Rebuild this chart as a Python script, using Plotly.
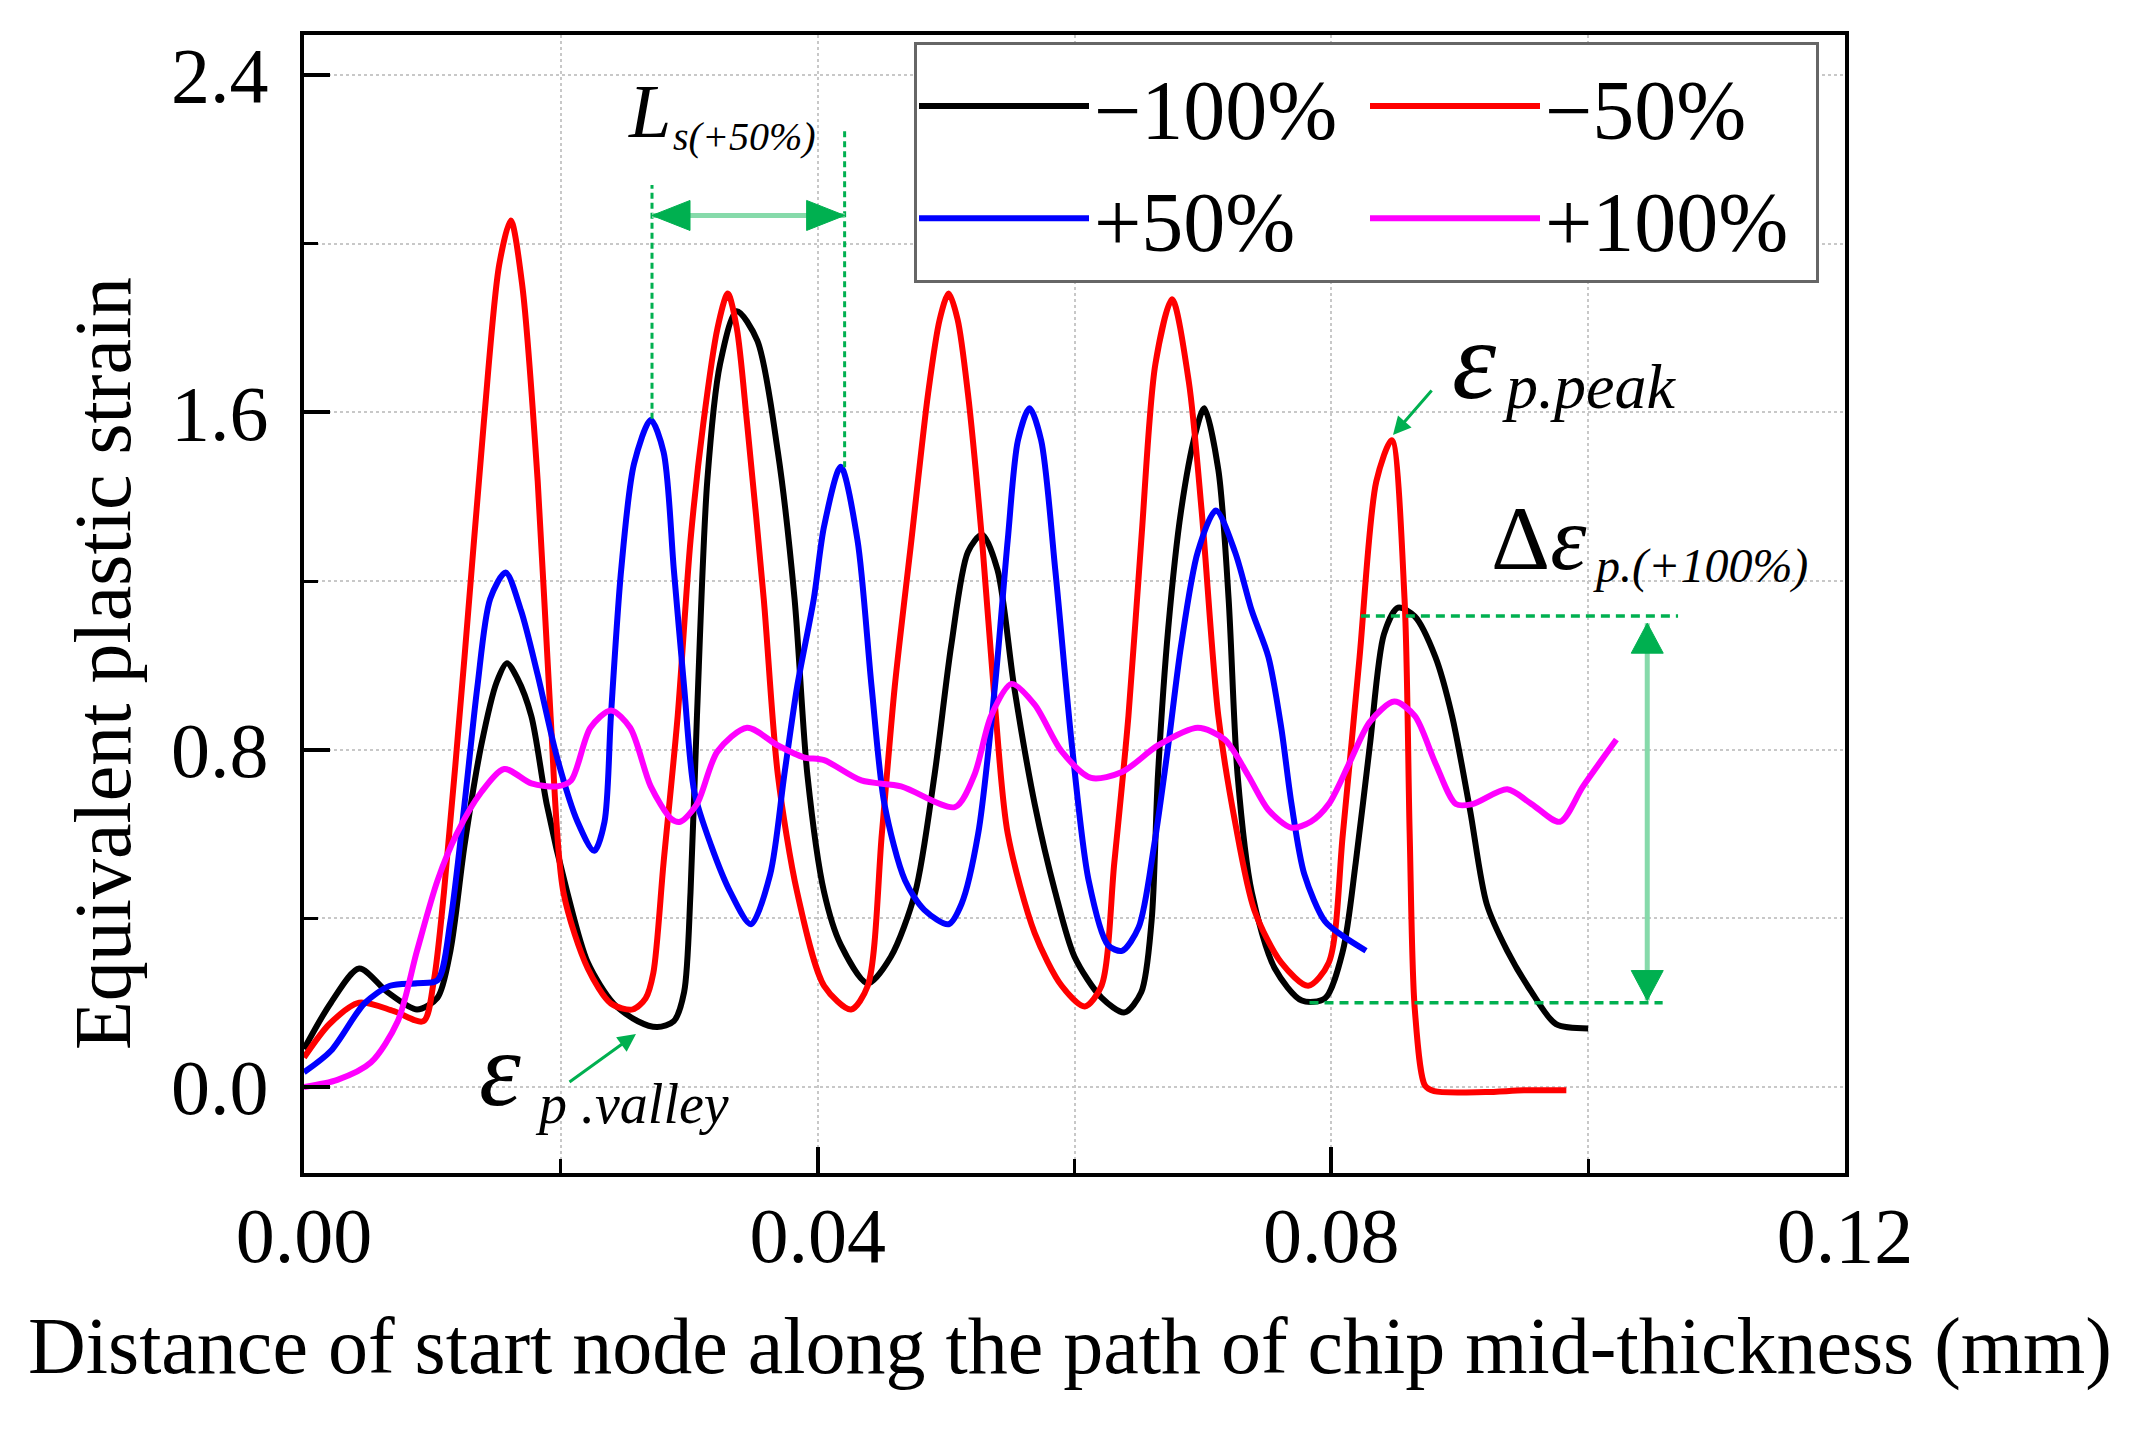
import plotly.graph_objects as go

# ---------------- data ----------------
red_x = [0.0000, 0.0020, 0.0043, 0.0070, 0.0093, 0.0101, 0.0109, 0.0125, 0.0140, 0.0152, 0.0161, 0.0170,
         0.0182, 0.0192, 0.0202, 0.0221, 0.0239, 0.0256, 0.0266, 0.0272, 0.0280, 0.0291, 0.0301, 0.0311,
         0.0322, 0.0330, 0.0337, 0.0345, 0.0358, 0.0369, 0.0384, 0.0405, 0.0426, 0.0439, 0.0450, 0.0460,
         0.0473, 0.0486, 0.0495, 0.0502, 0.0509, 0.0517, 0.0528, 0.0538, 0.0548, 0.0569, 0.0590, 0.0608,
         0.0621, 0.0631, 0.0642, 0.0652, 0.0663, 0.0676, 0.0689, 0.0699, 0.0712, 0.0725, 0.0740, 0.0761,
         0.0782, 0.0798, 0.0809, 0.0822, 0.0835, 0.0847, 0.0857, 0.0861, 0.0865, 0.0873, 0.0880, 0.0920,
         0.0950, 0.0983]
red_y = [0.07, 0.15, 0.20, 0.18, 0.156, 0.25, 0.462, 1.02, 1.575, 1.95, 2.055, 1.90,
         1.436, 0.88, 0.462, 0.281, 0.198, 0.184, 0.21, 0.27, 0.532, 0.88, 1.297, 1.575,
         1.80, 1.882, 1.80, 1.575, 1.158, 0.74, 0.462, 0.24, 0.184, 0.24, 0.601, 0.949,
         1.297, 1.645, 1.82, 1.882, 1.82, 1.645, 1.297, 0.908, 0.601, 0.365, 0.24, 0.191,
         0.24, 0.532, 0.88, 1.297, 1.715, 1.868, 1.673, 1.367, 0.88, 0.629, 0.42, 0.295,
         0.24, 0.295, 0.601, 1.02, 1.436, 1.534, 1.158, 0.601, 0.184, 0.003, -0.01, -0.012,
         -0.008, -0.008]

black_x = [0.0000, 0.0021, 0.0043, 0.0065, 0.0088, 0.0104, 0.0114, 0.0125, 0.0138, 0.0150, 0.0158, 0.0166,
           0.0177, 0.0189, 0.0205, 0.0221, 0.0241, 0.0260, 0.0275, 0.0288, 0.0296, 0.0301, 0.0306, 0.0314,
           0.0324, 0.0337, 0.0353, 0.0369, 0.0382, 0.0392, 0.0405, 0.0418, 0.0439, 0.0457, 0.0476, 0.0491,
           0.0504, 0.0517, 0.0528, 0.0540, 0.0553, 0.0569, 0.0585, 0.0600, 0.0621, 0.0639, 0.0652, 0.0660,
           0.0665, 0.0673, 0.0683, 0.0694, 0.0701, 0.0712, 0.0720, 0.0727, 0.0738, 0.0756, 0.0777, 0.0795,
           0.0809, 0.0819, 0.0830, 0.0841, 0.0852, 0.0865, 0.0881, 0.0894, 0.0908, 0.0921, 0.0937, 0.0956,
           0.0975, 0.1000]
black_y = [0.09, 0.20, 0.281, 0.225, 0.184, 0.212, 0.323, 0.573, 0.81, 0.96, 1.005, 0.97,
           0.88, 0.671, 0.462, 0.295, 0.198, 0.156, 0.142, 0.156, 0.225, 0.462, 0.88, 1.436,
           1.715, 1.84, 1.77, 1.506, 1.158, 0.74, 0.462, 0.337, 0.246, 0.309, 0.462, 0.74,
           1.047, 1.269, 1.31, 1.227, 0.949, 0.671, 0.462, 0.309, 0.212, 0.177, 0.225, 0.393,
           0.74, 1.088, 1.367, 1.548, 1.61, 1.464, 1.158, 0.74, 0.462, 0.281, 0.205, 0.21,
           0.323, 0.532, 0.81, 1.074, 1.137, 1.116, 1.02, 0.88, 0.657, 0.434, 0.323, 0.225,
           0.149, 0.139]

blue_x = [0.0000, 0.0021, 0.0047, 0.0067, 0.0088, 0.0104, 0.0114, 0.0125, 0.0135, 0.0145, 0.0157, 0.0169,
          0.0182, 0.0197, 0.0213, 0.0226, 0.0234, 0.0239, 0.0247, 0.0257, 0.0270, 0.0280, 0.0288, 0.0296,
          0.0304, 0.0317, 0.0332, 0.0348, 0.0363, 0.0374, 0.0384, 0.0397, 0.0405, 0.0418, 0.0431, 0.0442,
          0.0452, 0.0468, 0.0483, 0.0502, 0.0512, 0.0525, 0.0538, 0.0548, 0.0556, 0.0565, 0.0574, 0.0585,
          0.0598, 0.0611, 0.0626, 0.0637, 0.0650, 0.0662, 0.0673, 0.0683, 0.0696, 0.0710, 0.0725, 0.0738,
          0.0751, 0.0761, 0.0769, 0.0779, 0.0795, 0.0809, 0.0827]
blue_y = [0.035, 0.086, 0.198, 0.24, 0.246, 0.253, 0.393, 0.671, 0.949, 1.158, 1.22, 1.13,
          0.977, 0.782, 0.629, 0.56, 0.629, 0.88, 1.227, 1.478, 1.582, 1.506, 1.227, 0.949,
          0.699, 0.573, 0.462, 0.386, 0.504, 0.74, 0.949, 1.158, 1.33, 1.471, 1.297, 0.949,
          0.671, 0.49, 0.42, 0.386, 0.434, 0.601, 0.949, 1.297, 1.534, 1.61, 1.534, 1.227,
          0.81, 0.49, 0.337, 0.323, 0.379, 0.573, 0.81, 1.047, 1.269, 1.367, 1.269, 1.13,
          1.02, 0.852, 0.671, 0.504, 0.393, 0.358, 0.323]

magenta_x = [0.0000, 0.0026, 0.0052, 0.0073, 0.0088, 0.0104, 0.0119, 0.0138, 0.0156, 0.0177, 0.0197, 0.0208,
             0.0223, 0.0239, 0.0254, 0.0270, 0.0286, 0.0293, 0.0306, 0.0322, 0.0345, 0.0369, 0.0389, 0.0405,
             0.0434, 0.0465, 0.0507, 0.0522, 0.0535, 0.0551, 0.0569, 0.0590, 0.0613, 0.0637, 0.0665, 0.0696,
             0.0717, 0.0735, 0.0751, 0.0769, 0.0784, 0.0798, 0.0814, 0.0830, 0.0849, 0.0865, 0.0881, 0.0897,
             0.0910, 0.0937, 0.0956, 0.0978, 0.0996, 0.1022]
magenta_y = [0.00, 0.017, 0.058, 0.156, 0.323, 0.49, 0.601, 0.699, 0.754, 0.72, 0.713, 0.727,
             0.852, 0.893, 0.852, 0.713, 0.636, 0.629, 0.671, 0.796, 0.852, 0.81, 0.782, 0.775,
             0.727, 0.713, 0.664, 0.74, 0.88, 0.956, 0.907, 0.796, 0.733, 0.747, 0.81, 0.852,
             0.824, 0.74, 0.657, 0.615, 0.629, 0.671, 0.768, 0.866, 0.914, 0.88, 0.768, 0.671,
             0.671, 0.706, 0.671, 0.629, 0.713, 0.824]

series_names = ["\u2212100%", "\u221250%", "+50%", "+100%"]
series_colors = ["#000000", "#FF0000", "#0000FF", "#FF00FF"]
legend_columns = ["c1", "c2", "c1", "c2"]

x_major = [0.00, 0.04, 0.08, 0.12]
x_major_text = ["0.00", "0.04", "0.08", "0.12"]
y_major = [0.0, 0.8, 1.6, 2.4]
y_major_text = ["0.0", "0.8", "1.6", "2.4"]

x_title = "Distance of start node along the path of chip mid-thickness (mm)"
y_title = "Equivalent plastic strain"

# ---------------- figure ----------------
FONT = "Liberation Serif"
W, H = 2139, 1430
L, R, T, B = 296, 302, 27, 265
GREEN = "#00B050"
LIGHT_GREEN = "#86DAAA"

fig = go.Figure()
data = [(black_x, black_y), (red_x, red_y), (blue_x, blue_y), (magenta_x, magenta_y)]
for (xs, ys), name, col, grp in zip(data, series_names, series_colors, legend_columns):
    fig.add_trace(go.Scatter(x=xs, y=ys, mode="lines", name=name, legendgroup=grp,
                             line=dict(color=col, width=6, shape="spline", smoothing=0.8)))

axis_common = dict(showline=True, linewidth=4, linecolor="black", mirror=True,
                   ticks="inside", ticklen=26, tickwidth=4, tickcolor="black",
                   showgrid=False, zeroline=False, automargin=False,
                   tickfont=dict(family=FONT, size=78, color="black"))

fig.update_xaxes(range=[0, 0.12], tickmode="array", tickvals=x_major, ticktext=x_major_text,
                 ticklabelstandoff=-9,
                 minor=dict(dtick=0.02, tick0=0, ticks="inside", ticklen=14, tickwidth=3,
                            tickcolor="black", showgrid=True, gridcolor="#C8C8C8",
                            griddash="dot", gridwidth=2),
                 **axis_common)
fig.update_yaxes(range=[-0.204, 2.495], tickmode="array", tickvals=y_major, ticktext=y_major_text,
                 ticklabelstandoff=16,
                 minor=dict(dtick=0.4, tick0=0, ticks="inside", ticklen=14, tickwidth=3,
                            tickcolor="black", showgrid=True, gridcolor="#C8C8C8",
                            griddash="dot", gridwidth=2),
                 **axis_common)

# helpers to convert reference pixel positions to data coords for labels
def dx(px):
    return (px - 296) / 12842.0

def dy(py):
    return (1079 - py) / 421.7

shapes = []
# L_s(+50%) guide lines
shapes.append(dict(type="line", x0=0.0271, x1=0.0271, y0=1.585, y1=2.139,
                   line=dict(color=GREEN, width=3, dash="6px,4px")))
shapes.append(dict(type="line", x0=0.0421, x1=0.0421, y0=1.47, y1=2.274,
                   line=dict(color=GREEN, width=3, dash="6px,4px")))
shapes.append(dict(type="line", x0=0.0271, x1=0.0421, y0=2.067, y1=2.067,
                   line=dict(color=LIGHT_GREEN, width=5)))
# Delta eps guide lines
shapes.append(dict(type="line", x0=0.0823, x1=0.107, y0=1.117, y1=1.117,
                   line=dict(color=GREEN, width=3.5, dash="9px,6px")))
shapes.append(dict(type="line", x0=0.0783, x1=0.1058, y0=0.200, y1=0.200,
                   line=dict(color=GREEN, width=3.5, dash="9px,6px")))
shapes.append(dict(type="line", x0=0.1046, x1=0.1046, y0=0.205, y1=1.10,
                   line=dict(color=LIGHT_GREEN, width=5)))

def head(xa, ya, path):
    return dict(type="path", xsizemode="pixel", ysizemode="pixel", xanchor=xa, yanchor=ya,
                path=path, fillcolor=GREEN, line=dict(color=GREEN, width=1))

shapes.append(head(0.0271, 2.067, "M0,0 L38,15 L38,-15 Z"))
shapes.append(head(0.0421, 2.067, "M0,0 L-38,15 L-38,-15 Z"))
shapes.append(head(0.1046, 1.10, "M0,0 L-16,-30 L16,-30 Z"))
shapes.append(head(0.1046, 0.205, "M0,0 L-16,30 L16,30 Z"))

annotations = []
def txt(x, y, text, size, italic=True, anchor="left"):
    t = "<i>%s</i>" % text if italic else text
    annotations.append(dict(x=x, y=y, xref="x", yref="y", text=t, showarrow=False,
                            xanchor=anchor, yanchor="middle", borderpad=0,
                            font=dict(family=FONT, size=size, color="black")))

txt(dx(664), dy(103), "L", 76, anchor="right")
txt(dx(664), dy(128), "s(+50%)", 40)
txt(dx(1490), dy(352), "\u03b5", 112, anchor="right")
txt(dx(1493), dy(378), "p.peak", 64)
annotations.append(dict(x=dx(1580), y=dy(530), xref="x", yref="y", text="\u0394<i>\u03b5</i>",
                        showarrow=False, xanchor="right", yanchor="middle", borderpad=0,
                        font=dict(family=FONT, size=92, color="black")))
txt(dx(1584), dy(558), "p.(+100%)", 48)
txt(dx(514), dy(1062), "\u03b5", 106, anchor="right")
txt(dx(526), dy(1096), "p .valley", 56)

# small pointer arrows
annotations.append(dict(x=dx(1385), y=dy(427), xref="x", yref="y", text="", showarrow=True,
                        ax=40, ay=-46, arrowcolor=GREEN, arrowwidth=3, arrowhead=2, arrowsize=1.2))
annotations.append(dict(x=dx(628), y=dy(1026), xref="x", yref="y", text="", showarrow=True,
                        ax=-68, ay=49, arrowcolor=GREEN, arrowwidth=3, arrowhead=2, arrowsize=1.2))

# axis titles
annotations.append(dict(x=(1062 - L) / 1541.0, y=(1165 - 1338) / 1138.0, xref="paper", yref="paper",
                        text=x_title, showarrow=False, xanchor="center", yanchor="middle",
                        font=dict(family=FONT, size=80, color="black")))
annotations.append(dict(x=(95 - L) / 1541.0, y=(1165 - 656) / 1138.0, xref="paper", yref="paper",
                        text=y_title, showarrow=False, xanchor="center", yanchor="middle",
                        textangle=-90, font=dict(family=FONT, size=80, color="black")))

fig.update_layout(
    width=W, height=H,
    margin=dict(l=L, r=R, t=T, b=B, pad=0, autoexpand=False),
    paper_bgcolor="white", plot_bgcolor="white",
    font=dict(family=FONT, color="black"),
    shapes=shapes, annotations=annotations,
    showlegend=True,
    legend=dict(orientation="h", traceorder="grouped", x=(906 - L) / 1541.0, y=(1165 - 34) / 1138.0,
                xanchor="left", yanchor="top", bgcolor="white",
                bordercolor="#666666", borderwidth=3,
                font=dict(family=FONT, size=84, color="black"),
                itemwidth=170, entrywidth=266, tracegroupgap=0),
)

fig.write_html("out.html")
